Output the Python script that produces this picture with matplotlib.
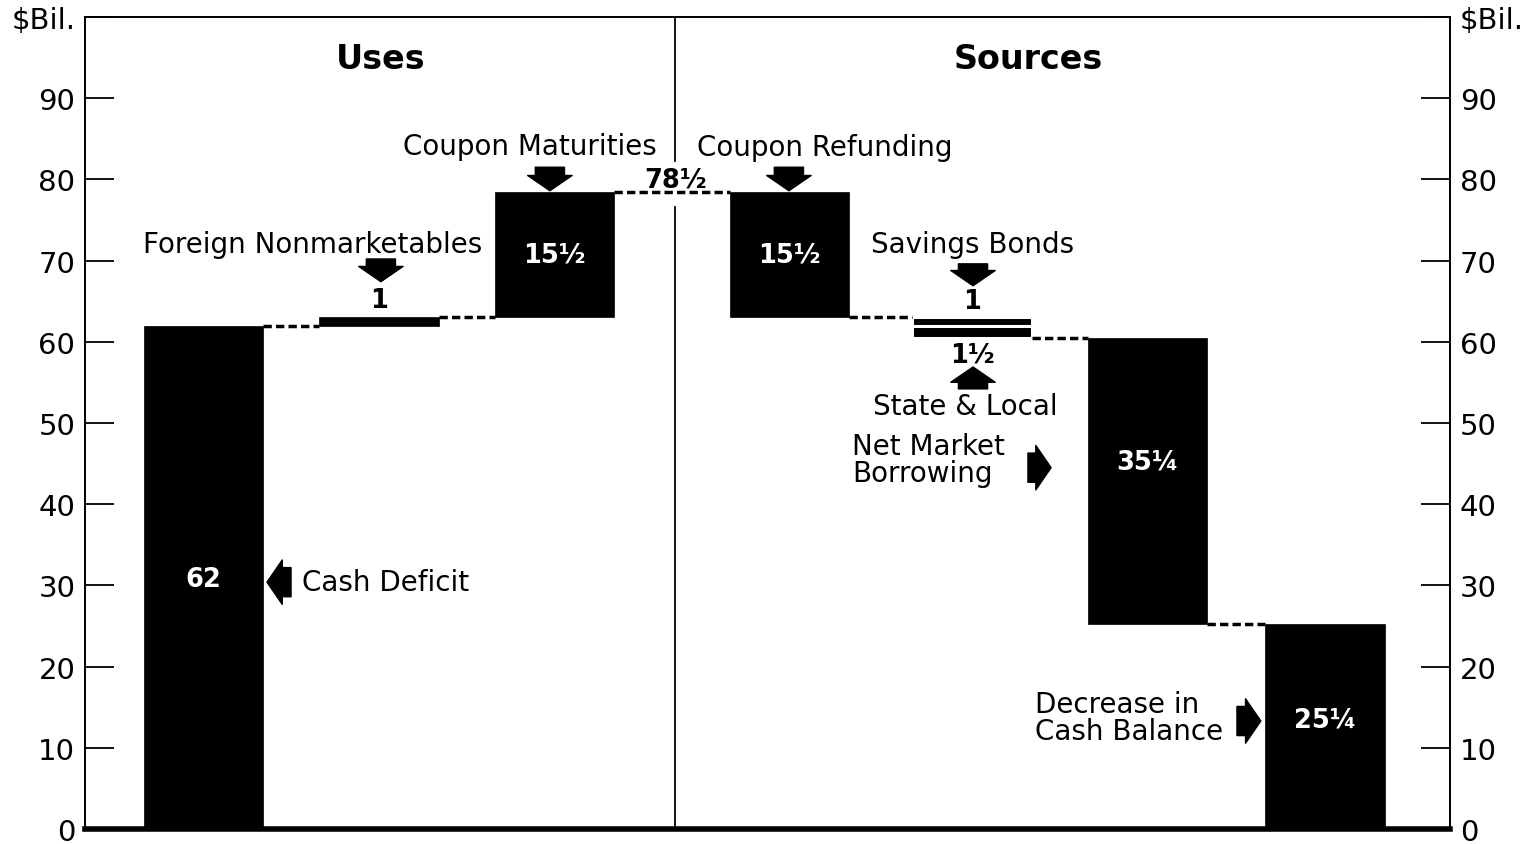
import matplotlib.pyplot as plt

# waterfall data ($ billions)
labels = ["Cash Deficit", "Foreign Nonmarketables", "Coupon Maturities",
          "Coupon Refunding", "Savings Bonds", "State & Local",
          "Net Market Borrowing", "Decrease in Cash Balance"]
amounts = [62, 1, 15.5, -15.5, -1, -1.5, -35.25, -25.25]
value_text = ["62", "1", "15½", "15½", "1", "1½", "35¼", "25¼"]
x_pos = [0, 1, 2, 3.34, 4.38, 4.38, 5.38, 6.39]
yticks = [0, 10, 20, 30, 40, 50, 60, 70, 80, 90, 100]
ytick_labels = ["0", "10", "20", "30", "40", "50", "60", "70", "80", "90", "$Bil."]

plt.rcParams["font.family"] = "DejaVu Sans"

fig = plt.figure(figsize=(15.22, 8.45), dpi=100)
ax = fig.add_axes([85 / 1522, 15 / 845, 1365 / 1522, 812 / 845])

width = 0.68
bottoms, tops = [], []
total = 0
for a in amounts:
    lo, hi = sorted([total, total + a])
    bottoms.append(lo)
    tops.append(hi)
    total += a

for i in range(len(amounts)):
    if labels[i] in ("Savings Bonds", "State & Local"):
        ax.bar(x_pos[i], tops[i] - bottoms[i], width, bottom=bottoms[i],
               color="black", edgecolor="white", linewidth=2.2)
    else:
        ax.bar(x_pos[i], tops[i] - bottoms[i], width, bottom=bottoms[i],
               color="black", edgecolor="black", linewidth=0.5)

# dashed connectors between bars
running = 0
levels = []
for a in amounts:
    running += a
    levels.append(running)
for i in range(len(amounts) - 1):
    if x_pos[i] == x_pos[i + 1]:
        continue
    ax.plot([x_pos[i] + width / 2, x_pos[i + 1] - width / 2], [levels[i], levels[i]],
            color="black", lw=2.5, linestyle=(0, (2.4, 1.2)), solid_capstyle="butt")

# values inside / beside the bars
inside_y = {0: 30.8, 2: 70.7, 3: 70.7, 6: 45.2, 7: 13.5}
outside_y = {1: 65.1, 4: 65.0, 5: 58.4}
for i, t in enumerate(value_text):
    if i in inside_y:
        ax.text(x_pos[i], inside_y[i], t, color="white", fontsize=18.5,
                fontweight="bold", ha="center", va="center")
    else:
        ax.text(x_pos[i], outside_y[i], t, color="black", fontsize=18.5,
                fontweight="bold", ha="center", va="center")
ax.text(2.692, 80.0, "78½", color="black", fontsize=18.5, fontweight="bold",
        ha="center", va="center")

# divider between uses and sources
div = 2.687
ax.plot([div, div], [0, 76.6], color="black", lw=1.3)
ax.plot([div, div], [82.3, 100], color="black", lw=1.3)

ax.text(1.01, 94.9, "Uses", fontsize=24, fontweight="bold", ha="center", va="center")
ax.text(4.70, 94.9, "Sources", fontsize=24, fontweight="bold", ha="center", va="center")

fs = 20
ax.text(0.624, 72.0, "Foreign Nonmarketables", fontsize=fs, ha="center", va="center")
ax.text(1.86, 84.1, "Coupon Maturities", fontsize=fs, ha="center", va="center")
ax.text(3.54, 84.0, "Coupon Refunding", fontsize=fs, ha="center", va="center")
ax.text(4.385, 72.0, "Savings Bonds", fontsize=fs, ha="center", va="center")
ax.text(4.34, 52.1, "State & Local", fontsize=fs, ha="center", va="center")
ax.text(3.695, 45.5, "Net Market\nBorrowing", fontsize=fs, ha="left", va="center",
        linespacing=0.95)
ax.text(4.738, 13.7, "Decrease in\nCash Balance", fontsize=fs, ha="left", va="center",
        linespacing=0.95)
ax.text(0.561, 30.4, "Cash Deficit", fontsize=fs, ha="left", va="center")


def block_arrow(x0, y0, x1, y1):
    ax.annotate("", xy=(x1, y1), xytext=(x0, y0),
                arrowprops=dict(arrowstyle="simple,head_length=0.55,head_width=1.6,tail_width=1.05",
                                mutation_scale=20, fc="black", ec="black",
                                shrinkA=0, shrinkB=0))


block_arrow(1.011, 70.2, 1.011, 67.4)
block_arrow(1.974, 81.5, 1.974, 78.6)
block_arrow(3.336, 81.5, 3.336, 78.6)
block_arrow(4.385, 69.6, 4.385, 66.9)
block_arrow(4.385, 54.2, 4.385, 56.9)
block_arrow(0.499, 30.4, 0.362, 30.4)
block_arrow(4.698, 44.5, 4.830, 44.5)
block_arrow(5.889, 13.3, 6.025, 13.3)

ax.set_xlim(-0.675, 7.103)
ax.set_ylim(0, 100)
ax.set_xticks([])
ax.set_yticks(yticks)
ax.set_yticklabels(ytick_labels)
ax.tick_params(axis="y", direction="in", length=21, width=1.3, labelsize=21,
               left=True, right=True, labelleft=True, labelright=True, pad=7)
for side in ("left", "right", "top"):
    ax.spines[side].set_linewidth(1.4)
ax.spines["bottom"].set_linewidth(4)

fig.savefig("out.png", dpi=100)
